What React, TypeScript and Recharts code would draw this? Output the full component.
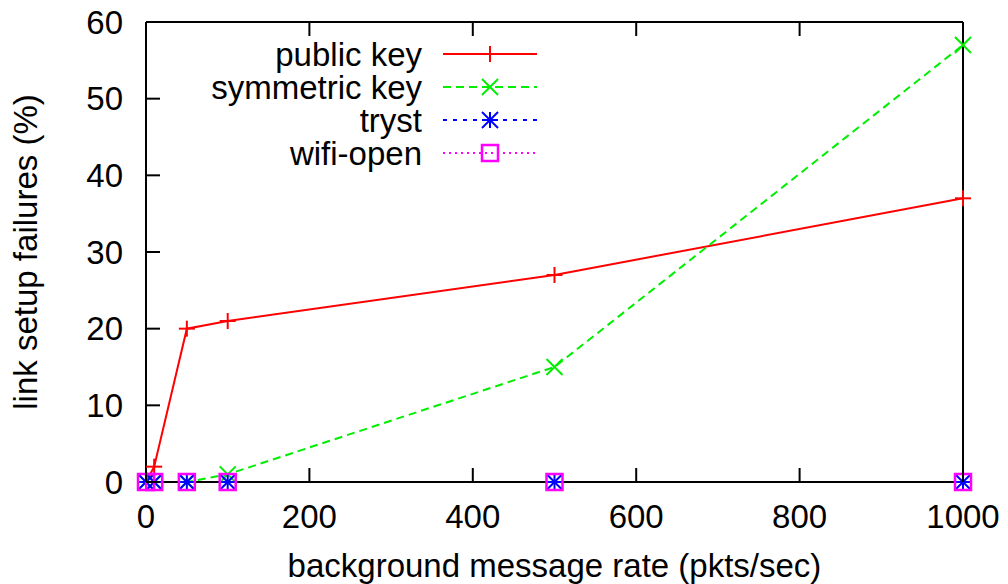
import { LineChart, Line, XAxis, YAxis, Legend } from "recharts";

const rates = [0, 10, 50, 100, 500, 1000];
const publicKey = [0, 2, 20, 21, 27, 37];
const symmetricKey = [0, 0, 0, 1, 15, 57];
const tryst = [0, 0, 0, 0, 0, 0];
const wifiOpen = [0, 0, 0, 0, 0, 0];
const xTicks = [0, 200, 400, 600, 800, 1000];
const yTicks = [0, 10, 20, 30, 40, 50, 60];

const data = rates.map((rate, i) => ({
  rate,
  publicKey: publicKey[i],
  symmetricKey: symmetricKey[i],
  tryst: tryst[i],
  wifiOpen: wifiOpen[i],
}));

const FONT = '"Liberation Sans", Arial, Helvetica, sans-serif';
const FS = 33;
const TICK = 14;
const M = 8; // marker half size

function Plus({ cx, cy, color }: any) {
  return (
    <g stroke={color} strokeWidth={2}>
      <line x1={cx - M} y1={cy} x2={cx + M} y2={cy} />
      <line x1={cx} y1={cy - M} x2={cx} y2={cy + M} />
    </g>
  );
}

function Cross({ cx, cy, color }: any) {
  return (
    <g stroke={color} strokeWidth={2}>
      <line x1={cx - M} y1={cy - M} x2={cx + M} y2={cy + M} />
      <line x1={cx - M} y1={cy + M} x2={cx + M} y2={cy - M} />
    </g>
  );
}

function Star({ cx, cy, color }: any) {
  return (
    <g stroke={color} strokeWidth={2}>
      <line x1={cx - M} y1={cy} x2={cx + M} y2={cy} />
      <line x1={cx} y1={cy - M} x2={cx} y2={cy + M} />
      <line x1={cx - M} y1={cy - M} x2={cx + M} y2={cy + M} />
      <line x1={cx - M} y1={cy + M} x2={cx + M} y2={cy - M} />
    </g>
  );
}

function Box({ cx, cy, color }: any) {
  return (
    <rect x={cx - M} y={cy - M} width={2 * M} height={2 * M} fill="none" stroke={color} strokeWidth={2.5} />
  );
}

const SERIES = [
  { key: "publicKey", name: "public key", color: "#ff0000", dash: undefined, Marker: Plus },
  { key: "symmetricKey", name: "symmetric key", color: "#00ee00", dash: "8 5", Marker: Cross },
  { key: "tryst", name: "tryst", color: "#0000ff", dash: "4 6", Marker: Star },
  { key: "wifiOpen", name: "wifi-open", color: "#ff00ff", dash: "2 4", Marker: Box },
];

function BottomTick({ x, y, payload }: any) {
  return (
    <g>
      <line x1={x} y1={y} x2={x} y2={y - TICK} stroke="#000" strokeWidth={2} />
      <text x={x} y={y + 34} textAnchor="middle" dominantBaseline="central" fontSize={FS} fontFamily={FONT} fill="#000">
        {payload.value}
      </text>
    </g>
  );
}

function TopTick({ x, y }: any) {
  return <line x1={x} y1={y} x2={x} y2={y + TICK} stroke="#000" strokeWidth={2} />;
}

function LeftTick({ x, y, payload }: any) {
  return (
    <g>
      <line x1={x} y1={y} x2={x + TICK} y2={y} stroke="#000" strokeWidth={2} />
      <text x={x - 23} y={y} textAnchor="end" dominantBaseline="central" fontSize={FS} fontFamily={FONT} fill="#000">
        {payload.value}
      </text>
    </g>
  );
}

function RightTick({ x, y }: any) {
  return <line x1={x} y1={y} x2={x - TICK} y2={y} stroke="#000" strokeWidth={2} />;
}

function XTitle({ viewBox }: any) {
  return (
    <text x={viewBox.x + viewBox.width / 2} y={viewBox.y + 95} textAnchor="middle" fontSize={FS} fontFamily={FONT} fill="#000">
      background message rate (pkts/sec)
    </text>
  );
}

function YTitle({ viewBox }: any) {
  const x = viewBox.x - 9;
  const y = viewBox.y + viewBox.height / 2;
  return (
    <text x={x} y={y} transform={`rotate(-90 ${x} ${y})`} textAnchor="middle" fontSize={FS} fontFamily={FONT} fill="#000">
      link setup failures (%)
    </text>
  );
}

function LegendBox() {
  return (
    <svg width={600} height={180} style={{ display: "block" }}>
      {SERIES.map((s, i) => {
        const y = 54 + i * 33;
        return (
          <g key={s.key}>
            <text x={422} y={y} textAnchor="end" dominantBaseline="central" fontSize={FS} fontFamily={FONT} fill="#000">
              {s.name}
            </text>
            <line x1={443} y1={y} x2={537} y2={y} stroke={s.color} strokeWidth={2} strokeDasharray={s.dash} />
            <s.Marker cx={490} cy={y} color={s.color} />
          </g>
        );
      })}
    </svg>
  );
}

export default function App() {
  return (
    <div style={{ position: "absolute", left: 0, top: 0, background: "#fff" }}>
      <LineChart width={1008} height={584} data={data} margin={{ top: 21, right: 44, bottom: 42, left: 46 }}>
        <XAxis
          dataKey="rate"
          type="number"
          domain={[0, 1000]}
          ticks={xTicks}
          height={60}
          tickSize={0}
          tickMargin={0}
          tickLine={false}
          axisLine={{ stroke: "#000", strokeWidth: 2 }}
          tick={(p: any) => <BottomTick {...p} />}
          label={(p: any) => <XTitle {...p} />}
        />
        <XAxis
          xAxisId="top"
          orientation="top"
          dataKey="rate"
          type="number"
          domain={[0, 1000]}
          ticks={xTicks}
          height={1}
          tickSize={0}
          tickMargin={0}
          tickLine={false}
          axisLine={{ stroke: "#000", strokeWidth: 2 }}
          tick={(p: any) => <TopTick {...p} />}
        />
        <YAxis
          type="number"
          domain={[0, 60]}
          ticks={yTicks}
          width={100}
          tickSize={0}
          tickMargin={0}
          tickLine={false}
          axisLine={{ stroke: "#000", strokeWidth: 2 }}
          tick={(p: any) => <LeftTick {...p} />}
          label={(p: any) => <YTitle {...p} />}
        />
        <YAxis
          yAxisId="right"
          orientation="right"
          type="number"
          domain={[0, 60]}
          ticks={yTicks}
          width={1}
          tickSize={0}
          tickMargin={0}
          tickLine={false}
          axisLine={{ stroke: "#000", strokeWidth: 2 }}
          tick={(p: any) => <RightTick {...p} />}
        />
        <Legend
          layout="horizontal"
          verticalAlign="middle"
          align="center"
          wrapperStyle={{ position: "absolute", left: 0, top: 0, width: 600, height: 180 }}
          content={() => <LegendBox />}
        />
        {SERIES.map((s) => (
          <Line
            key={s.key}
            dataKey={s.key}
            name={s.name}
            type="linear"
            stroke={s.color}
            strokeWidth={2}
            strokeDasharray={s.dash}
            isAnimationActive={false}
            dot={(p: any) => <s.Marker key={`${s.key}-${p.index}`} cx={p.cx} cy={p.cy} color={s.color} />}
            activeDot={false}
          />
        ))}
      </LineChart>
    </div>
  );
}
